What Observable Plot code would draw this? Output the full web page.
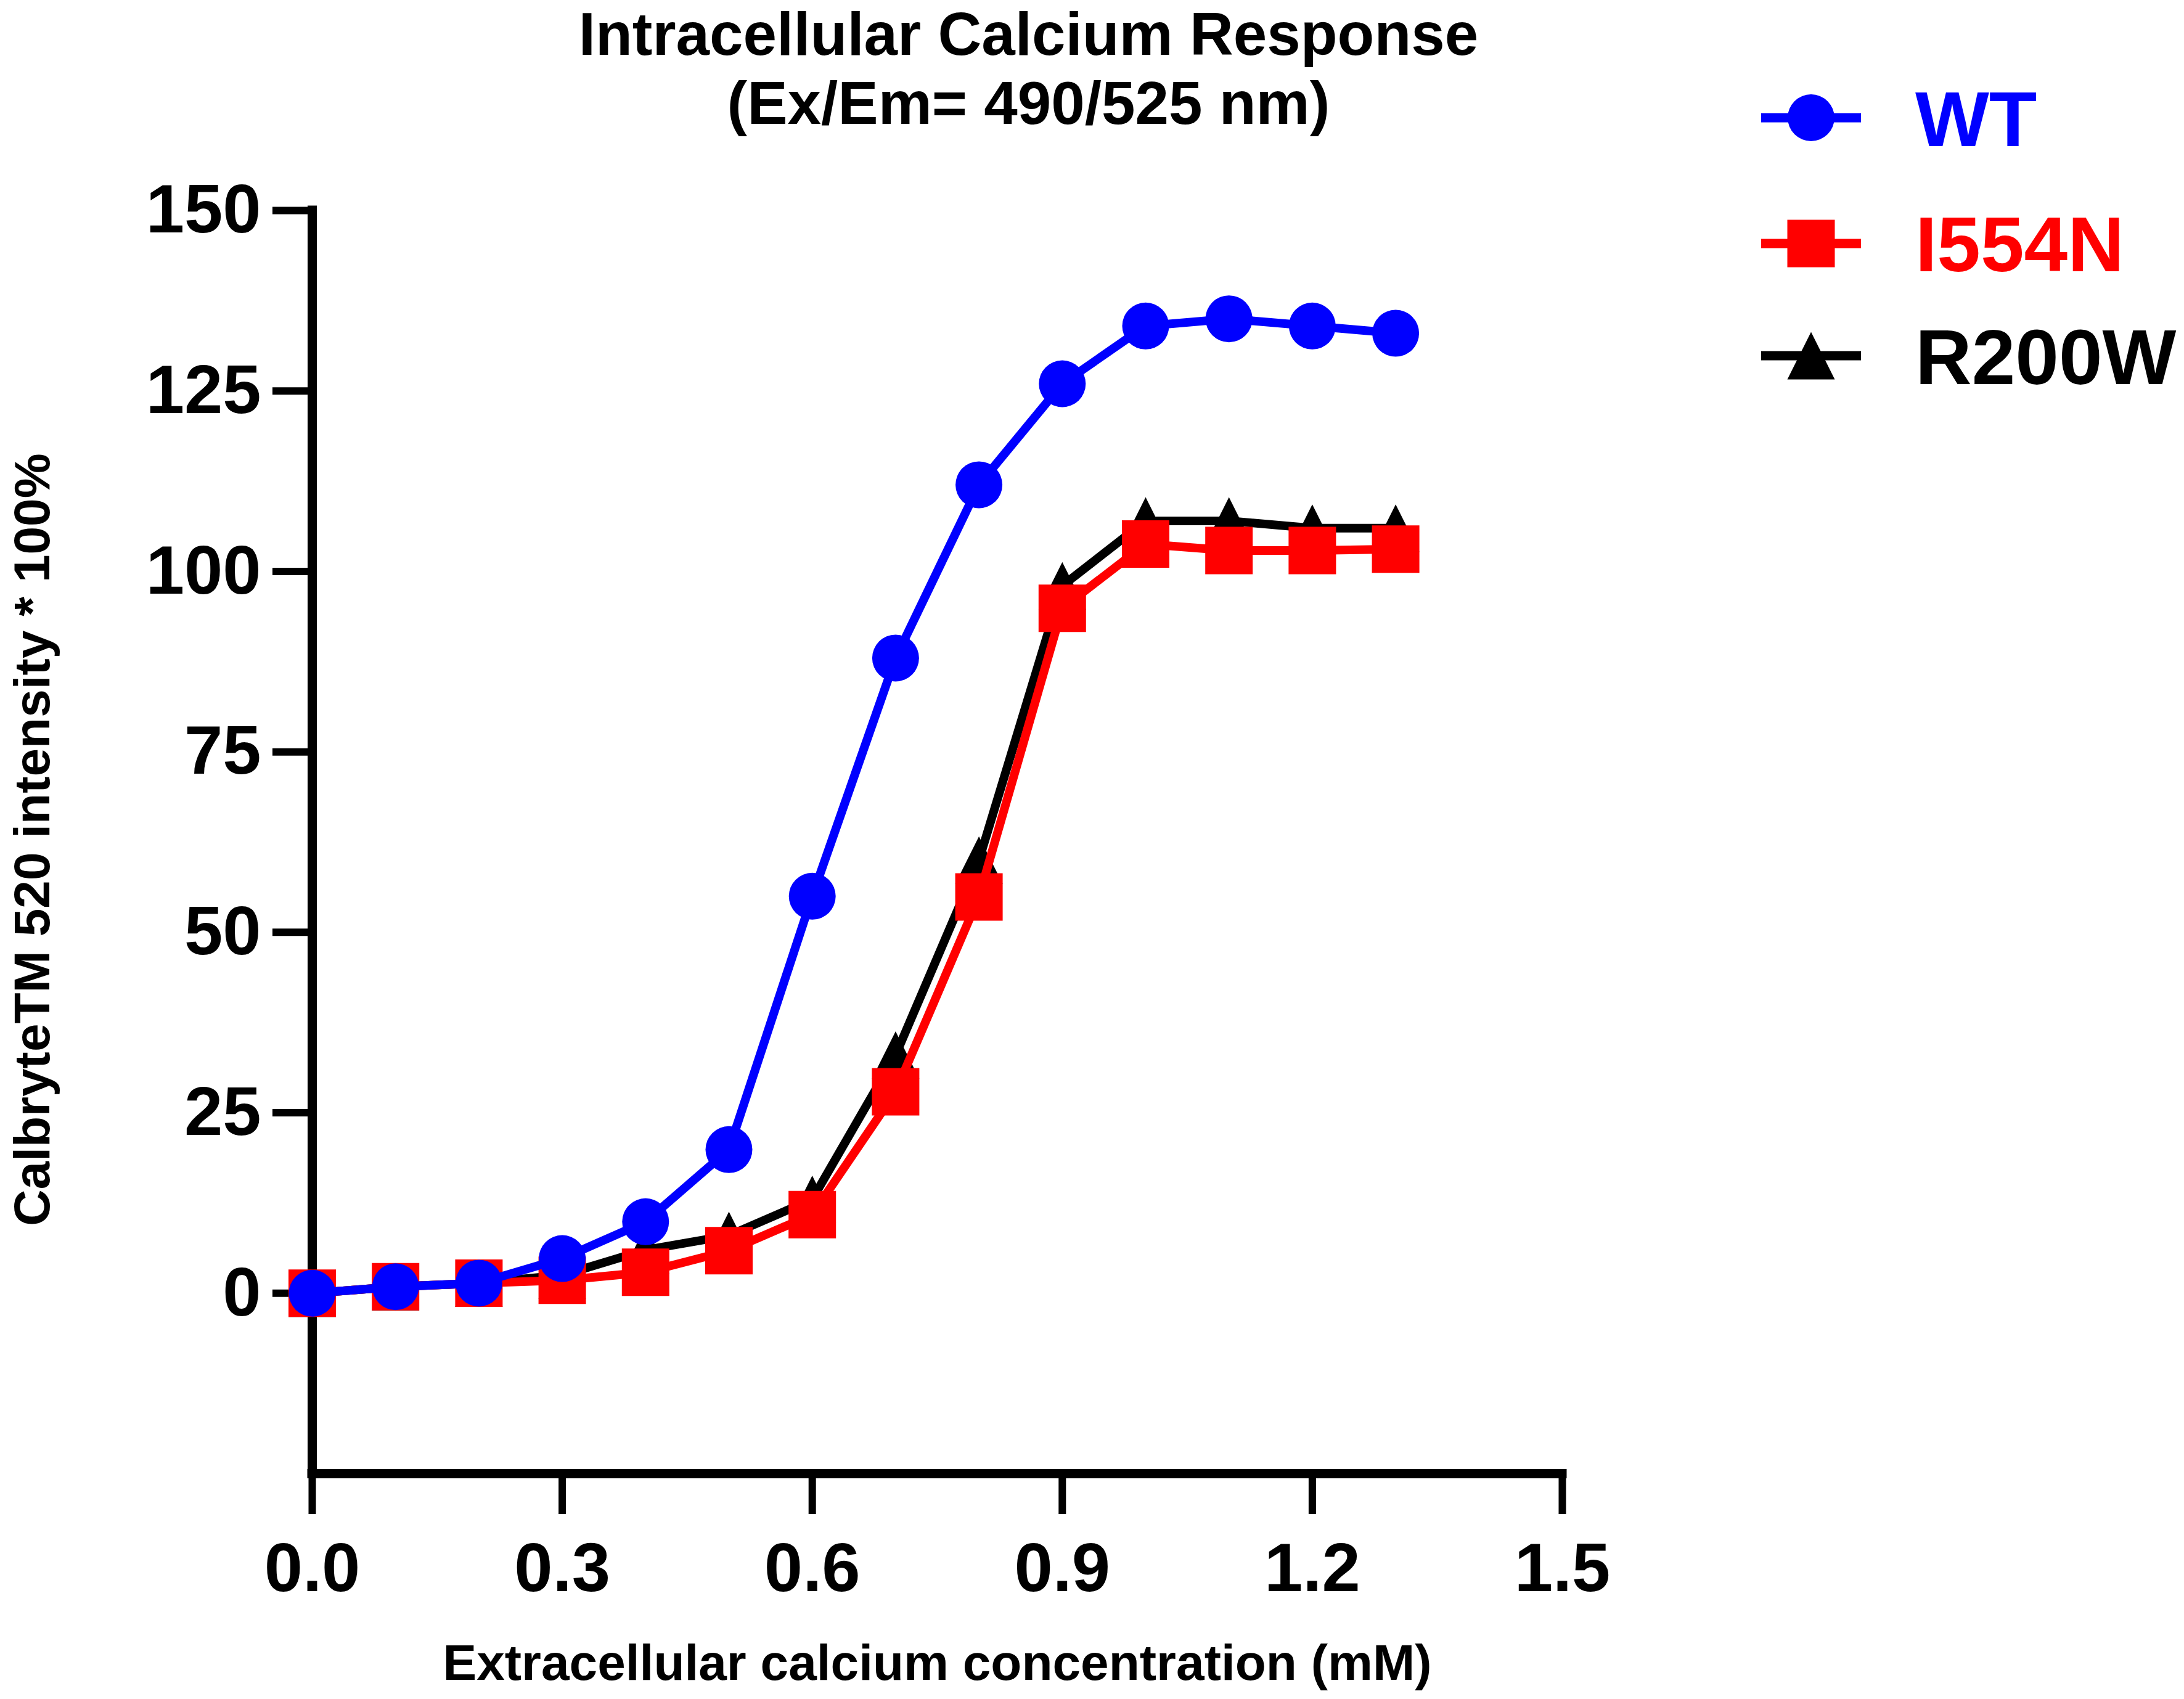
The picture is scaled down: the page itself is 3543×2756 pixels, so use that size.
<!DOCTYPE html>
<html>
<head>
<meta charset="utf-8">
<script src="https://cdn.jsdelivr.net/npm/d3@7"></script>
<script src="https://cdn.jsdelivr.net/npm/@observablehq/plot@0.6"></script>
<style>
  html, body { margin: 0; padding: 0; background: #fff; }
  #wrap { position: relative; width: 3543px; height: 2756px; }
  #legend { position: absolute; left: 0; top: 0; pointer-events: none; }
</style>
</head>
<body>
<div id="wrap"></div>
<script>
// ---- Data ----
const concentrations = [0, 0.1, 0.2, 0.3, 0.4, 0.5, 0.6, 0.7, 0.8, 0.9, 1.0, 1.1, 1.2, 1.3];
const seriesNames = ["WT", "I554N", "R200W"];
const seriesColors = ["#0000ff", "#ff0000", "#000000"];
const wtValues    = [0, 0.9, 1.4, 4.8, 9.9, 19.9, 55, 88, 112, 126, 134, 135, 134, 133];
const i554nValues = [0, 0.9, 1.4, 1.8, 2.9, 5.9, 10.9, 27.9, 54.9, 94.9, 103.8, 102.9, 102.9, 103.1];
const r200wValues = [0, 0.9, 1.4, 2.5, 6.0, 8.0, 13.0, 33.0, 60.0, 98.0, 107.0, 107.0, 106.0, 106.0];
const xTicks = [0, 0.3, 0.6, 0.9, 1.2, 1.5];
const yTicks = [0, 25, 50, 75, 100, 125, 150];
const titleLines = ["Intracellular Calcium Response", "(Ex/Em= 490/525 nm)"];
const xLabel = "Extracellular calcium concentration (mM)";
const yLabel = "CalbryteTM 520 intensity * 100%";

// ---- Custom symbols (bounding-box centered) ----
const squareSymbol = {
  draw(ctx, size) {
    const r = Math.sqrt(size / Math.PI);
    ctx.moveTo(-r, -r); ctx.lineTo(r, -r); ctx.lineTo(r, r); ctx.lineTo(-r, r); ctx.closePath();
  }
};
const triangleSymbol = {
  draw(ctx, size) {
    const r = Math.sqrt(size / Math.PI);
    ctx.moveTo(0, -r); ctx.lineTo(r, r); ctx.lineTo(-r, r); ctx.closePath();
  }
};

const mk = (vals, name) => concentrations.map((c, i) => ({x: c, y: vals[i], series: name}));
const wt = mk(wtValues, "WT");
const i554n = mk(i554nValues, "I554N");
const r200w = mk(r200wValues, "R200W");

const font = "'Liberation Sans', Arial, Helvetica, sans-serif";
const LW = 14;

const chart = Plot.plot({
  width: 3543,
  height: 2756,
  marginLeft: 506,
  marginRight: 1009,
  marginTop: 341,
  marginBottom: 366,
  style: {fontFamily: font, fontWeight: "bold", background: "#fff", color: "#000"},
  x: {domain: [0, 1.5], label: null},
  y: {domain: [-25, 150], label: null},
  marks: [
    Plot.axisY({ticks: yTicks, tickSize: 64, tickPadding: 19, fontSize: 112, fontWeight: "bold", strokeWidth: 12, label: null, tickFormat: d => String(d)}),
    Plot.axisX({ticks: xTicks, tickSize: 66, tickPadding: 45, fontSize: 112, fontWeight: "bold", strokeWidth: 12, label: null, tickFormat: d3.format(".1f")}),
    Plot.ruleX([0], {y1: -25, y2: 150, stroke: "#000", strokeWidth: 15, strokeLinecap: "square"}),
    Plot.ruleY([-25], {x1: 0, x2: 1.5, stroke: "#000", strokeWidth: 15, strokeLinecap: "square"}),
    // R200W
    Plot.line(r200w, {x: "x", y: "y", stroke: seriesColors[2], strokeWidth: LW}),
    Plot.dot(r200w, {x: "x", y: "y", r: 38.5, fill: seriesColors[2], symbol: triangleSymbol}),
    // I554N
    Plot.line(i554n, {x: "x", y: "y", stroke: seriesColors[1], strokeWidth: LW}),
    Plot.dot(i554n, {x: "x", y: "y", r: 38.5, fill: seriesColors[1], symbol: squareSymbol}),
    // WT
    Plot.line(wt, {x: "x", y: "y", stroke: seriesColors[0], strokeWidth: LW}),
    Plot.dot(wt, {x: "x", y: "y", r: 38, fill: seriesColors[0]}),
    // Titles
    Plot.text([titleLines[0]], {frameAnchor: "top", textAnchor: "middle", dx: 148, dy: -284, fontSize: 98, fontWeight: "bold", lineAnchor: "middle"}),
    Plot.text([titleLines[1]], {frameAnchor: "top", textAnchor: "middle", dx: 148, dy: -172, fontSize: 98, fontWeight: "bold", lineAnchor: "middle"}),
    Plot.text([xLabel], {frameAnchor: "bottom", textAnchor: "middle", dy: 308, fontSize: 82, fontWeight: "bold", lineAnchor: "middle"}),
    Plot.text([yLabel], {frameAnchor: "left", textAnchor: "middle", dx: -453, dy: -4, rotate: -90, fontSize: 82, fontWeight: "bold", lineAnchor: "middle"})
  ]
});

const wrap = document.getElementById("wrap");
wrap.appendChild(chart);

// ---- Legend ----
const legend = d3.select(wrap).append("svg")
  .attr("id", "legend")
  .attr("width", 3543).attr("height", 2756);
const markerCenters = [191, 395, 577];
const textBaselines = [237, 440, 623];
const shapes = [d3.symbol().type({draw(ctx){ ctx.arc(0,0,38,0,2*Math.PI); }}).size(1)(),
                d3.symbol().type(squareSymbol).size(Math.PI * 38.5 * 38.5)(),
                d3.symbol().type(triangleSymbol).size(Math.PI * 38.5 * 38.5)()];
seriesNames.forEach((name, i) => {
  const g = legend.append("g");
  g.append("line").attr("x1", 2857).attr("x2", 3019)
    .attr("y1", markerCenters[i]).attr("y2", markerCenters[i])
    .attr("stroke", seriesColors[i]).attr("stroke-width", 15);
  g.append("path").attr("d", shapes[i])
    .attr("transform", `translate(2938,${markerCenters[i]})`)
    .attr("fill", seriesColors[i]);
  g.append("text").attr("x", 3107).attr("y", textBaselines[i])
    .attr("fill", seriesColors[i])
    .attr("font-family", font).attr("font-weight", "bold").attr("font-size", 127)
    .text(name);
});
</script>
</body>
</html>
